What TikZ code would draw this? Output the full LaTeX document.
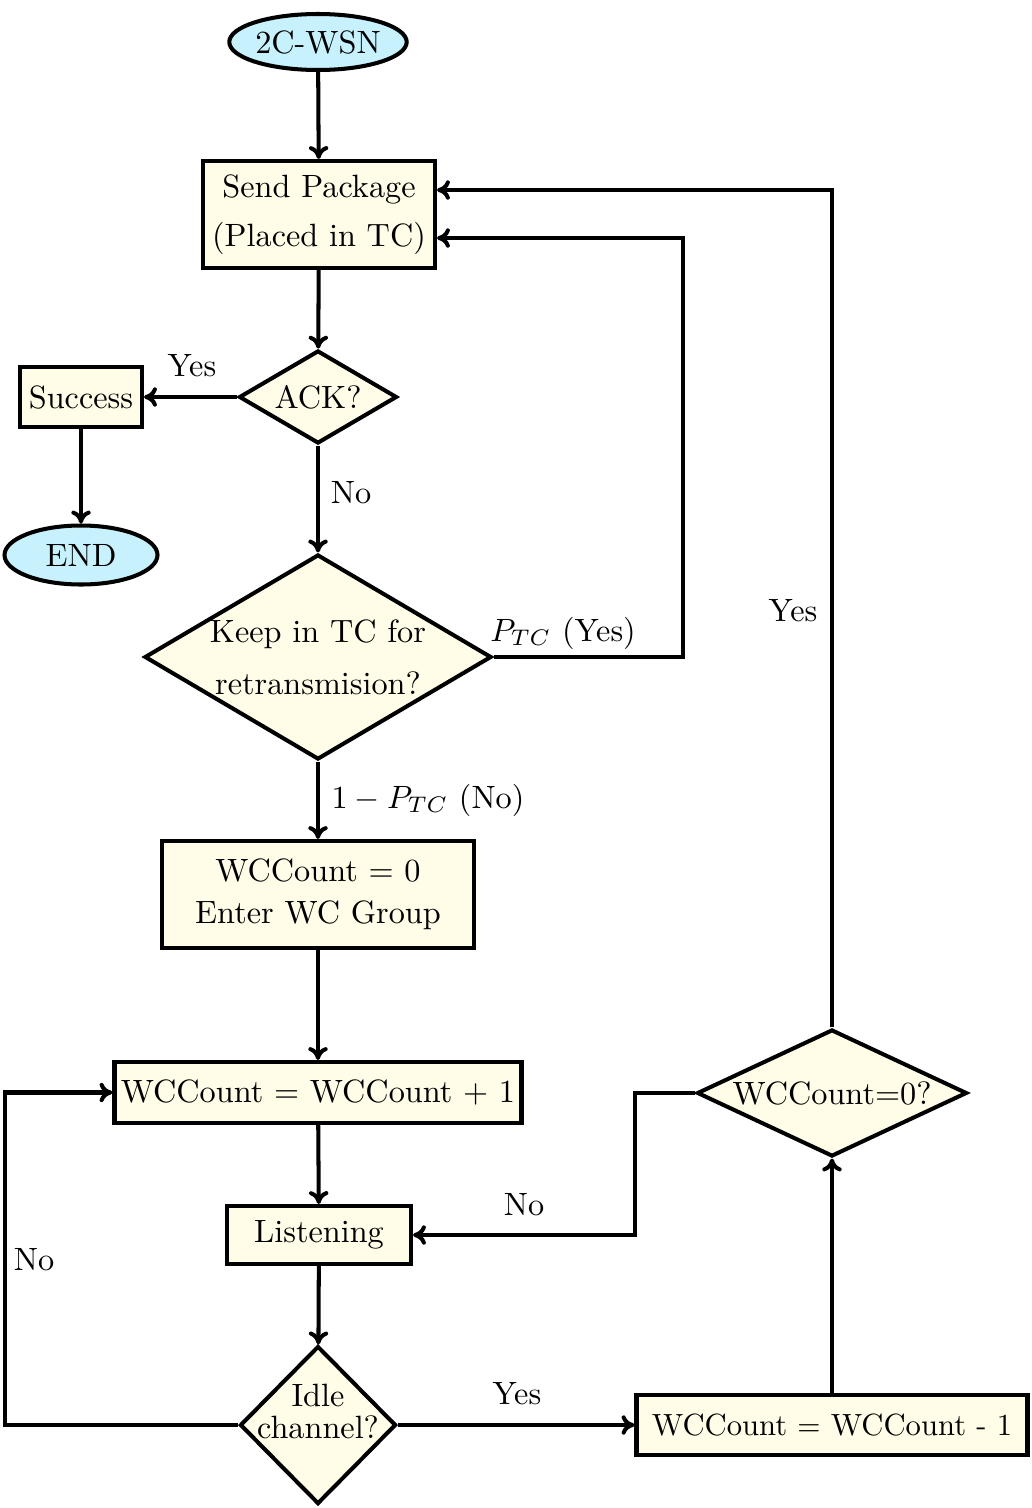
\documentclass[tikz,border=0pt]{standalone}
\usetikzlibrary{shapes.geometric,arrows.meta}
\definecolor{boxfill}{RGB}{255,252,232}
\definecolor{ovalfill}{RGB}{199,241,252}
\tikzset{
  every node/.style={font=\normalsize},
  lw/.style={line width=1.25pt},
  box/.style={lw, draw=black, fill=boxfill, rectangle, align=center, inner sep=0pt},
  oval/.style={lw, draw=black, fill=ovalfill, ellipse, inner sep=0pt},
  dia/.style={lw, draw=black, fill=boxfill, diamond, inner sep=0pt, shape aspect=1},
  arr/.style={lw, -{To[length=4pt,width=6pt]}},
  lab/.style={inner sep=0pt},
}
\begin{document}
\begin{tikzpicture}[x=0.31pt,y=-0.31pt]
\useasboundingbox (0,0) rectangle (1032,1508);
% nodes
\node[oval, minimum width=156*0.31pt, minimum height=56*0.31pt] (start) at (318,42) {2C-WSN};
\node[box, minimum width=232*0.31pt, minimum height=107*0.31pt] (send) at (319,214.5) {Send Package\\[3pt](Placed in TC)};
\node[dia, minimum width=158*0.31pt, minimum height=93*0.31pt, label={[lab]center:ACK?}] (ack) at (318,397) {};
\node[box, minimum width=122*0.31pt, minimum height=60*0.31pt] (succ) at (81,397) {Success};
\node[oval, minimum width=153*0.31pt, minimum height=59*0.31pt] (end) at (81,555) {END};
\node[dia, minimum width=347*0.31pt, minimum height=205*0.31pt, label={[lab,align=center]center:Keep in TC for\\[4pt]retransmision?}] (keep) at (318,657) {};
\node[box, minimum width=312*0.31pt, minimum height=107*0.31pt] (wc0) at (318,894.5) {WCCount $=$ 0\\[1pt]Enter WC Group};
\node[box, minimum width=407*0.31pt, minimum height=61*0.31pt] (wc1) at (318,1092.5) {WCCount $=$ WCCount $+$ 1};
\node[box, minimum width=184*0.31pt, minimum height=58*0.31pt] (listen) at (319,1235) {Listening};
\node[dia, minimum width=156*0.31pt, minimum height=158*0.31pt, label={[lab,align=center,yshift=4.3pt]center:Idle\\[-2pt]channel?}] (idle) at (318,1425) {};
\node[box, minimum width=391*0.31pt, minimum height=60*0.31pt, font=\fontsize{9.5pt}{11pt}\selectfont] (wcm) at (832,1425) {WCCount $=$ WCCount - 1};
\node[dia, minimum width=270*0.31pt, minimum height=127*0.31pt, label={[lab]center:WCCount$=$0?}] (wcz) at (832,1093) {};
% corner coordinates
\coordinate (c1) at (683,238);
\coordinate (c2) at (832,190);
\coordinate (c3) at (5,1260);
\coordinate (c4) at (635,1160);
% connectors
\draw[arr] (start) -- (send);
\draw[arr] (send) -- (ack);
\draw[arr] (ack) -- (succ);
\draw[arr] (succ) -- (end);
\draw[arr] (ack) -- (keep);
\draw[arr] (keep.east) -| (c1) -- (send.east |- c1);
\draw[arr] (keep) -- (wc0);
\draw[arr] (wc0) -- (wc1);
\draw[arr] (wc1) -- (listen);
\draw[arr] (listen) -- (idle);
\draw[arr] (idle.west) -| (c3) |- (wc1.west);
\draw[arr] (idle) -- (wcm);
\draw[arr] (wcm) -- (wcz);
\draw[arr] (wcz.west) -| (c4) |- (listen.east);
\draw[arr] (wcz.north) |- (send.east |- c2);
% labels
\node[lab] at (192,366) {Yes};
\node[lab] at (351,493) {No};
\node[lab] at (563,633) {$P_{TC}$ (Yes)};
\node[lab] at (428,800) {$1-P_{TC}$ (No)};
\node[lab] at (34,1260) {No};
\node[lab] at (517,1394) {Yes};
\node[lab] at (524,1205) {No};
\node[lab] at (793,611) {Yes};
\end{tikzpicture}
\end{document}
